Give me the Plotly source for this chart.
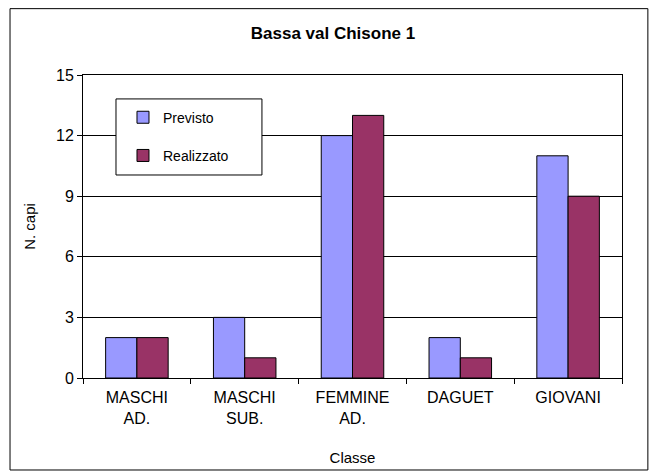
import plotly.graph_objects as go

categories = ["MASCHI<br>AD.", "MASCHI<br>SUB.", "FEMMINE<br>AD.", "DAGUET", "GIOVANI"]
previsto = [2, 3, 12, 2, 11]
realizzato = [2, 1, 13, 1, 9]
y_ticks = [0, 3, 6, 9, 12, 15]

font = "Liberation Sans, Arial, sans-serif"

fig = go.Figure()
fig.add_trace(go.Bar(x=categories, y=previsto, name="Previsto", legendgroup="a",
                     marker=dict(color="#9999FF", line=dict(color="black", width=1))))
fig.add_trace(go.Bar(x=categories, y=realizzato, name="Realizzato", legendgroup="b",
                     marker=dict(color="#993366", line=dict(color="black", width=1))))

# the page body adds an 8px offset, so the figure is laid out 8px up/left
fig.update_layout(
    width=650, height=464,
    margin=dict(l=75, r=36, t=67, b=94),
    paper_bgcolor="white", plot_bgcolor="white",
    font=dict(family=font, size=15, color="black"),
    title=dict(text="<b>Bassa val Chisone 1</b>", x=0.5, xanchor="center",
               y=1 - 25 / 464, yanchor="middle", font=dict(size=17)),
    barmode="group", bargap=0.42, bargroupgap=0,
    showlegend=True,
    legend=dict(x=0.0742, y=0.912, xanchor="left", yanchor="top",
                bgcolor="rgba(0,0,0,0)", borderwidth=0, tracegroupgap=17,
                font=dict(size=14), itemwidth=30),
    shapes=[
        dict(type="rect", xref="paper", yref="paper",
             x0=-0.1354, x1=1.048, y0=-0.3036, y1=1.219,
             line=dict(color="black", width=1), fillcolor="rgba(0,0,0,0)", layer="below"),
        dict(type="rect", xref="paper", yref="paper",
             x0=0.0612, x1=0.332, y0=0.670, y1=0.921,
             line=dict(color="black", width=1), fillcolor="white", layer="above"),
    ],
)

fig.update_xaxes(
    title=dict(text="Classe", standoff=26, font=dict(size=15)),
    showline=True, linecolor="black", linewidth=1, mirror=True,
    ticks="outside", ticklen=5, tickcolor="black", tickson="boundaries",
    tickfont=dict(size=16), ticklabelstandoff=5, automargin=False,
)
fig.update_yaxes(
    title=dict(text="N. capi", standoff=16, font=dict(size=15)),
    range=[0, 15], tickvals=y_ticks,
    showline=True, linecolor="black", linewidth=1, mirror=True,
    showgrid=True, gridcolor="black", gridwidth=1,
    ticks="outside", ticklen=5, tickcolor="black",
    tickfont=dict(size=16), zeroline=False, automargin=False,
)

fig.write_html("out.html")
